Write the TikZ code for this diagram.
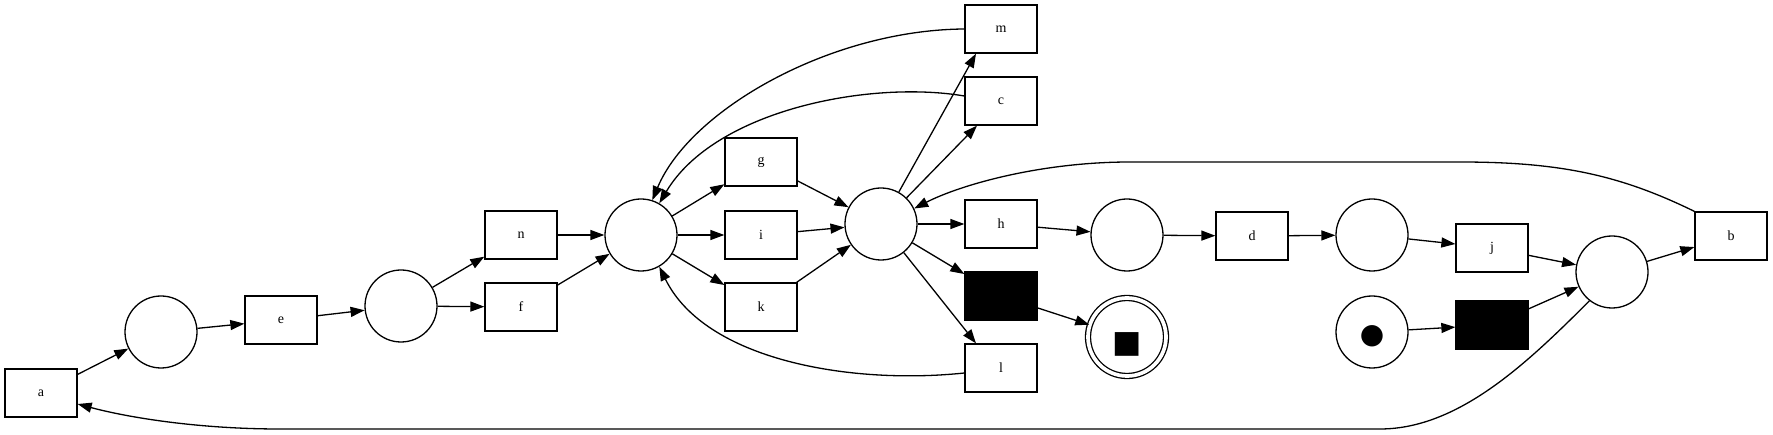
\documentclass[tikz,border=0pt]{standalone}
\usepackage{fontspec}
\setmainfont{Liberation Serif}
\newfontfamily\symfont{DejaVu Sans}
\usetikzlibrary{arrows.meta}
\begin{document}
\begin{tikzpicture}[x=1pt,y=-1pt,
  trans/.style={draw, line width=1.3pt, minimum width=72pt, minimum height=48pt, inner sep=0pt, font=\fontsize{14}{16}\selectfont},
  silent/.style={trans, fill=black},
  place/.style={draw, circle, line width=1.3pt, minimum size=72pt, inner sep=0pt},
  finalplace/.style={place, double, double distance=3.7pt, minimum size=78pt},
  arc/.style={line width=1.3pt, -{Triangle[length=14pt,width=10pt]}},
  tok/.style={font=\symfont\fontsize{#1}{#1}\selectfont, inner sep=0pt}
]
\useasboundingbox (0,0) rectangle (1773,435);
% transitions
\node[trans] (a) at (41,393) {a};
\node[trans] (e) at (281,320) {e};
\node[trans] (n) at (521,235) {n};
\node[trans] (f) at (521,307) {f};
\node[trans] (g) at (761,162) {g};
\node[trans] (i) at (761,235) {i};
\node[trans] (k) at (761,307) {k};
\node[trans] (m) at (1001,29) {m};
\node[trans] (c) at (1001,101) {c};
\node[trans] (h) at (1001,224) {h};
\node[silent] (s1) at (1001,296) {};
\node[trans] (l) at (1001,368) {l};
\node[trans] (d) at (1252,236) {d};
\node[trans] (j) at (1492,248) {j};
\node[silent] (s2) at (1492,325) {};
\node[trans] (b) at (1731,236) {b};
% places
\node[place] (p1) at (161,332) {};
\node[place] (p2) at (401,306) {};
\node[place] (p3) at (641,235) {};
\node[place] (p4) at (881,224) {};
\node[place] (p5) at (1127,235) {};
\node[place] (p6) at (1372,235) {};
\node[place] (p7) at (1612,272) {};
\node[finalplace, label={[tok=31, yshift=-7pt]center:■}] (fin) at (1127,337) {};
\node[place, label={[tok=28, yshift=-4pt]center:●}] (ini) at (1372,332) {};
% arcs
\draw[arc] (a) -- (p1);
\draw[arc] (p1) -- (e);
\draw[arc] (e) -- (p2);
\draw[arc] (p2) -- (n);
\draw[arc] (p2) -- (f);
\draw[arc] (n) -- (p3);
\draw[arc] (f) -- (p3);
\draw[arc] (p3) -- (g);
\draw[arc] (p3) -- (i);
\draw[arc] (p3) -- (k);
\draw[arc] (g) -- (p4);
\draw[arc] (i) -- (p4);
\draw[arc] (k) -- (p4);
\draw[arc] (p4) -- ([xshift=-25pt]m.south);
\draw[arc] (p4) -- (c);
\draw[arc] (p4) -- (h);
\draw[arc] (p4) -- (s1);
\draw[arc] (p4) -- ([xshift=-25pt]l.north);
\draw[arc] (h) -- (p5);
\draw[arc] (p5) -- (d);
\draw[arc] (d) -- (p6);
\draw[arc] (p6) -- (j);
\draw[arc] (j) -- (p7);
\draw[arc] (s2) -- (p7);
\draw[arc] (ini) -- (s2);
\draw[arc] (s1) -- (fin);
\draw[arc] (p7) -- (b);
% curved arcs
\draw[arc] (m.west) .. controls (830,30) and (690,110) .. (p3.72);
\draw[arc] ([yshift=5pt]c.west) .. controls (870,80) and (715,110) .. (p3.60);
\draw[arc] ([yshift=-5pt]l.west) .. controls (850,385) and (705,360) .. (p3.-60);
\draw[arc] (b.north west) .. controls (1620,175) and (1560,162) .. (1460,162) -- (1130,162) .. controls (1040,162) and (960,185) .. (p4.25);
\draw[arc] (p7.232) .. controls (1530,360) and (1460,429) .. (1380,429) -- (280,429) .. controls (200,429) and (130,418) .. ([yshift=-11pt]a.east);
\end{tikzpicture}
\end{document}
